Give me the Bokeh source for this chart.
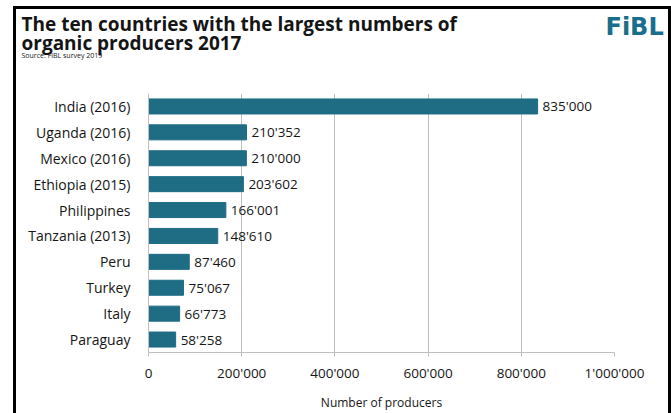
from bokeh.plotting import figure
from bokeh.models import ColumnDataSource, FactorRange, Range1d, FixedTicker, InlineStyleSheet
from bokeh.layouts import column
from bokeh.core.properties import value
from bokeh.embed import file_html
from bokeh.resources import INLINE

countries = ["India (2016)", "Uganda (2016)", "Mexico (2016)", "Ethiopia (2015)", "Philippines",
             "Tanzania (2013)", "Peru", "Turkey", "Italy", "Paraguay"]
producers = [835000, 210352, 210000, 203602, 166001, 148610, 87460, 75067, 66773, 58258]
x_ticks = [0, 200000, 400000, 600000, 800000, 1000000]

title_lines = ["The ten countries with the largest numbers of", "organic producers 2017"]
source_note = "Source: FiBL survey 2019"
logo_text = "FiBL"


def fmt(v):
    return f"{v:,}".replace(",", "'")


FONT = "Open Sans"
TEAL = "#1F6C85"
INK = "#151515"
W = 671
HEAD_H = 93
CHART_H = 413 - HEAD_H

# ---------- header (title, source, logo) ----------
head = figure(width=W, height=HEAD_H, output_backend="svg", toolbar_location=None,
              x_range=Range1d(0, W), y_range=Range1d(HEAD_H, 0),
              x_axis_type=None, y_axis_type=None, min_border=0)
head.frame_align = False
head.outline_line_color = None
head.xgrid.grid_line_color = None
head.ygrid.grid_line_color = None
head.background_fill_color = "white"
head.border_fill_color = "white"

head.text(x=[21, 21], y=[23, 42], text=title_lines, text_font=value(FONT),
          text_font_style="bold", text_font_size="19px", text_color=INK,
          text_baseline="alphabetic")
head.text(x=[21], y=[55], text=[source_note], text_font=value(FONT),
          text_font_size="7px", text_color=INK, text_baseline="alphabetic")
head.text(x=[605], y=[26], text=[logo_text], text_font=value("DejaVu Sans"),
          text_font_style="bold", text_font_size="24px", text_color="#1A6E8C",
          text_baseline="alphabetic")

# ---------- bar chart ----------
src = ColumnDataSource(dict(
    country=countries,
    value=producers,
    label=[fmt(v) for v in producers],
))

p = figure(width=W, height=CHART_H, output_backend="svg", toolbar_location=None,
           y_range=FactorRange(factors=list(reversed(countries))),
           x_range=Range1d(0, 1000000),
           min_border_left=148, min_border_right=57, min_border_top=0, min_border_bottom=55)
p.frame_align = False

p.hbar(y="country", right="value", left=0, height=0.58, source=src, color=TEAL)
p.text(x="value", y="country", text="label", source=src, x_offset=5,
       text_baseline="middle", text_align="left", text_font_size="13.5px",
       text_color=INK, text_font=value(FONT))

p.outline_line_color = None
p.background_fill_color = "white"
p.border_fill_color = "white"

p.xaxis.ticker = FixedTicker(ticks=x_ticks)
p.xaxis.major_label_overrides = {t: fmt(t) for t in x_ticks}
p.xaxis.axis_label = "Number of producers"
p.xaxis.axis_label_text_font_style = "normal"
p.xaxis.axis_label_text_font_size = "12px"
p.xaxis.axis_label_text_font = FONT
p.xaxis.axis_label_text_color = INK
p.xaxis.axis_label_standoff = 9
p.xaxis.major_label_text_font_size = "13.5px"
p.xaxis.major_label_text_font = FONT
p.xaxis.major_label_text_color = INK
p.xaxis.major_label_standoff = 7
p.xaxis.axis_line_color = "#BFBFBF"
p.xaxis.major_tick_line_color = "#BFBFBF"
p.xaxis.major_tick_in = 0
p.xaxis.major_tick_out = 4
p.xaxis.minor_tick_line_color = None

p.yaxis.major_label_text_font_size = "14px"
p.yaxis.major_label_text_font = FONT
p.yaxis.major_label_text_color = INK
p.yaxis.major_label_standoff = 12
p.yaxis.axis_line_color = "#BFBFBF"
p.yaxis.major_tick_line_color = None
p.yaxis.minor_tick_line_color = None

p.xgrid.grid_line_color = "#BFBFBF"
p.xgrid.ticker = FixedTicker(ticks=x_ticks)
p.ygrid.grid_line_color = None

# black slide frame (left, top, right edges; bottom lies outside the picture)
frame_css = InlineStyleSheet(css="""
:host { position: relative; }
:host::after {
  content: "";
  position: absolute;
  left: 13px; top: 6px;
  width: 652px; height: 430px;
  border: 3px solid black;
  pointer-events: none;
  z-index: 10;
}
""")

layout = column(head, p, spacing=0, stylesheets=[frame_css])

open("out.html", "w").write(file_html(layout, INLINE))
